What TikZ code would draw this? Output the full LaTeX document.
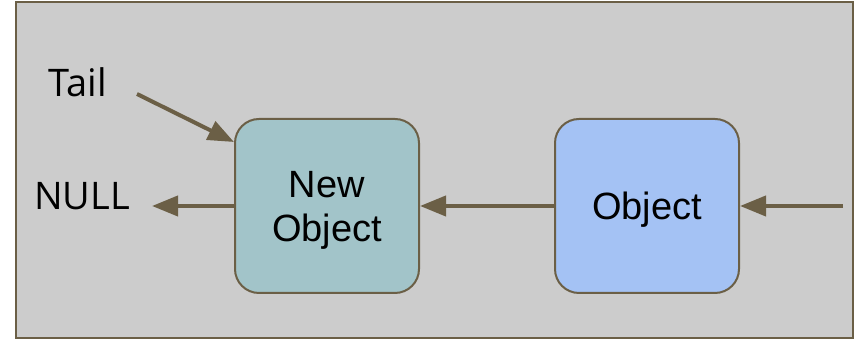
\documentclass[tikz,border=0pt]{standalone}
\usepackage{fontspec}
\setmainfont{Liberation Sans}
\newfontfamily\labelfont{Open Sans}
\usetikzlibrary{positioning}
\usetikzlibrary{arrows.meta}
\definecolor{panelgrey}{RGB}{204,204,204}
\definecolor{linebrown}{RGB}{107,95,70}
\definecolor{tealfill}{RGB}{162,196,201}
\definecolor{bluefill}{RGB}{164,194,244}
\tikzset{
    objbox/.style={draw=linebrown, line width=2pt, rounded corners=24pt,
        minimum width=184pt, minimum height=174pt, align=center,
        text depth=0pt,
        font=\fontsize{38}{44}\selectfont},
    link/.style={-{Triangle[length=26pt,width=20pt]}, draw=linebrown, line width=4pt}
}

\begin{document}
\begin{tikzpicture}[x=1pt, y=1pt]
 \useasboundingbox (0,0) rectangle (860,339);
 % Panel
 \node[draw=linebrown, fill=panelgrey, line width=1.5pt,
        minimum width=837pt,
        minimum height=336pt,
        inner sep=0pt
        ] (panel) at (434.5,169) {};

 % List nodes
 \node[objbox, fill=tealfill] (newobj) at (327,133) {New\\Object};

 \node[objbox, fill=bluefill,
        right=134pt of newobj
        ] (obj) {Object};

 % Labels
 \node[font=\labelfont\fontsize{38}{46}\selectfont] (tail) at (78,257) {Tail};
 \node[font=\labelfont\fontsize{38}{46}\selectfont] (null) at (82,143) {NULL};

 \coordinate (tailstart) at (137,245);
 \coordinate (tailend) at ([yshift=-24pt]newobj.north west);
 \coordinate (nullend) at (152,133);
 \coordinate (instart) at (843,133);

 % Arrows
 \draw[link] (tailstart) -- (tailend);
 \draw[link] (newobj.west) -- (nullend);
 \draw[link] (obj.west) -- (newobj.east);
 \draw[link] (instart) -- (obj.east);

\end{tikzpicture}
\end{document}
